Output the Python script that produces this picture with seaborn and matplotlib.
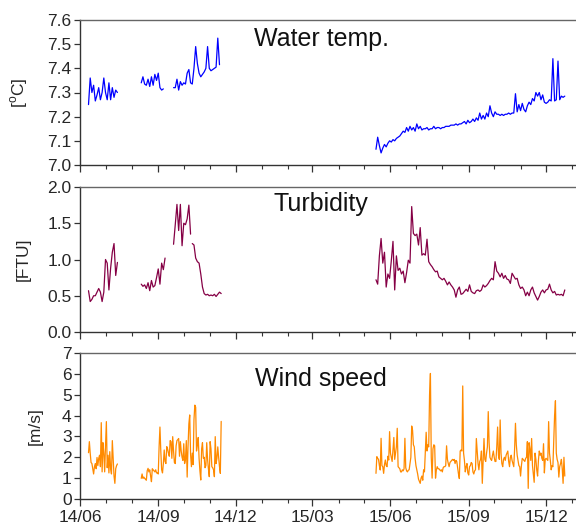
import numpy as np
import pandas as pd
import matplotlib
matplotlib.use("Agg")
import matplotlib.pyplot as plt
import matplotlib.dates as mdates
import seaborn as sns

# ---------------- data ----------------
# Water temperature [°C], readings every 2 days
temp_starts = ["2014-06-11", "2014-08-12", "2014-09-19", "2015-05-15"]
temp_step_days = 2
temp_seg1 = [7.25, 7.36, 7.30, 7.33, 7.265, 7.29, 7.32, 7.27, 7.30, 7.36, 7.30, 7.27,
             7.34, 7.27, 7.32, 7.28, 7.31, 7.30]
temp_seg2 = [7.34, 7.365, 7.335, 7.33, 7.355, 7.325, 7.365, 7.33, 7.375, 7.35, 7.38,
             7.32, 7.31, 7.315]
temp_seg3 = [7.32, 7.32, 7.355, 7.31, 7.345, 7.33, 7.34, 7.335, 7.38, 7.395, 7.34, 7.335,
             7.40, 7.49, 7.42, 7.38, 7.365, 7.375, 7.385, 7.40, 7.49, 7.40, 7.39, 7.395,
             7.40, 7.405, 7.525, 7.415]
temp_seg4 = [7.065, 7.115, 7.08, 7.05, 7.07, 7.085, 7.075, 7.09, 7.10, 7.095, 7.105, 7.10,
             7.11, 7.115, 7.12, 7.13, 7.14, 7.135, 7.155, 7.14, 7.16, 7.145, 7.155, 7.14,
             7.17, 7.15, 7.16, 7.145, 7.15, 7.15, 7.155, 7.145, 7.15, 7.15, 7.16, 7.15,
             7.155, 7.155, 7.15, 7.155, 7.155, 7.16, 7.16, 7.16, 7.165, 7.165, 7.165, 7.17,
             7.165, 7.17, 7.17, 7.175, 7.18, 7.17, 7.185, 7.175, 7.18, 7.19, 7.18, 7.195,
             7.185, 7.215, 7.19, 7.205, 7.19, 7.215, 7.20, 7.245, 7.215, 7.20, 7.22, 7.21,
             7.21, 7.205, 7.21, 7.205, 7.21, 7.21, 7.215, 7.21, 7.215, 7.215, 7.295, 7.22,
             7.25, 7.225, 7.255, 7.23, 7.22, 7.245, 7.26, 7.25, 7.275, 7.265, 7.30, 7.285,
             7.30, 7.27, 7.29, 7.26, 7.255, 7.26, 7.27, 7.265, 7.44, 7.265, 7.27, 7.43,
             7.27, 7.285, 7.28, 7.285]

# Turbidity [FTU], readings every 2 days
turb_starts = ["2014-06-11", "2014-08-12", "2014-09-19", "2014-10-11", "2015-05-15"]
turb_step_days = 2
turb_seg1 = [0.57, 0.42, 0.45, 0.50, 0.50, 0.55, 0.60, 0.55, 0.42, 0.55, 1.00, 0.95,
             0.58, 0.88, 1.10, 1.22, 0.78, 0.96]
turb_seg2 = [0.66, 0.63, 0.65, 0.60, 0.68, 0.57, 0.71, 0.62, 0.64, 0.75, 0.87, 0.66,
             0.95, 0.86, 1.02]
turb_seg3 = [1.21, 1.48, 1.76, 1.40, 1.76, 1.19, 1.50, 1.48, 1.56, 1.75, 1.35]
turb_seg4 = [1.22, 1.20, 1.02, 0.97, 0.95, 0.80, 0.62, 0.53, 0.51, 0.52, 0.50, 0.51,
             0.50, 0.52, 0.49, 0.52, 0.55, 0.53]
turb_seg5 = [0.72, 0.66, 1.05, 1.29, 0.95, 1.10, 0.62, 0.80, 0.74, 0.98, 1.25, 0.58,
             1.05, 0.85, 0.88, 0.80, 0.84, 0.68, 0.82, 0.99, 0.95, 1.73, 1.36, 1.33,
             1.35, 1.20, 1.44, 1.06, 1.08, 1.06, 1.28, 0.97, 0.93, 0.90, 0.86, 0.83,
             0.84, 0.76, 0.74, 0.72, 0.74, 0.70, 0.65, 0.69, 0.65, 0.62, 0.58, 0.48,
             0.58, 0.62, 0.52, 0.53, 0.56, 0.59, 0.56, 0.65, 0.56, 0.54, 0.53, 0.57,
             0.58, 0.56, 0.58, 0.65, 0.62, 0.64, 0.67, 0.71, 0.74, 0.72, 0.97, 0.84,
             0.81, 0.76, 0.81, 0.74, 0.78, 0.73, 0.72, 0.67, 0.81, 0.77, 0.73, 0.74,
             0.65, 0.60, 0.62, 0.58, 0.50, 0.55, 0.50, 0.58, 0.62, 0.54, 0.49, 0.44,
             0.49, 0.55, 0.58, 0.54, 0.58, 0.59, 0.66, 0.58, 0.54, 0.56, 0.51, 0.52,
             0.51, 0.52, 0.50, 0.58]

# Wind speed [m/s], daily readings
wind_starts = ["2014-06-11", "2014-08-12", "2015-05-15"]
wind_step_days = 1
wind_seg1 = [2.22, 2.75, 2.20, 1.75, 1.70, 1.45, 1.20, 1.55, 1.70, 1.45, 1.99, 1.60,
             1.95, 2.10, 1.55, 3.66, 1.30, 2.70, 2.20, 1.30, 2.55, 3.71, 1.50, 2.10,
             1.25, 2.27, 1.45, 1.20, 2.80, 1.95, 1.10, 0.75, 1.45, 1.60, 1.68]
wind_seg2 = [0.99, 1.20, 0.99, 1.05, 0.99, 0.95, 0.90, 1.35, 1.47, 1.30, 1.40, 1.10,
             0.83, 1.45, 1.40, 1.35, 1.30, 1.40, 1.25, 1.25, 1.20, 2.50, 3.45, 2.30,
             1.40, 1.25, 1.70, 2.35, 1.80, 1.70, 2.51, 2.40, 2.20, 2.05, 2.80, 2.75,
             1.95, 2.99, 2.30, 1.75, 1.70, 2.55, 2.80, 2.85, 2.90, 2.05, 2.75, 2.30,
             2.00, 1.85, 2.65, 1.70, 1.90, 2.80, 1.05, 2.50, 3.60, 4.03, 2.15, 1.55,
             2.20, 1.65, 3.80, 4.50, 4.40, 2.30, 2.60, 2.95, 1.95, 1.35, 0.91, 2.40,
             2.70, 1.95, 2.00, 1.50, 1.60, 2.70, 1.90, 1.45, 1.07, 2.75, 2.40, 1.55,
             1.50, 1.40, 1.07, 2.99, 1.70, 1.95, 2.50, 2.00, 1.55, 1.23, 3.72]
wind_seg3 = [1.23, 2.03, 1.95, 1.90, 1.60, 1.39, 2.91, 1.60, 1.55, 1.23, 1.65, 1.87,
             1.60, 1.55, 2.05, 1.87, 3.23, 2.20, 2.00, 1.80, 2.40, 2.95, 1.90, 2.20,
             2.50, 3.39, 1.55, 1.50, 1.45, 1.30, 1.30, 1.40, 1.35, 1.45, 2.91, 1.50,
             1.35, 1.30, 1.38, 1.40, 1.70, 2.00, 3.50, 3.30, 2.60, 2.50, 1.95, 1.60,
             1.40, 1.20, 0.95, 0.85, 0.75, 1.00, 1.10, 0.90, 1.40, 1.30, 2.20, 3.20,
             2.30, 2.60, 2.50, 5.00, 6.02, 2.00, 1.00, 2.40, 2.60, 2.55, 1.00, 1.40,
             1.55, 1.45, 1.45, 1.40, 1.35, 1.40, 1.30, 1.50, 1.55, 1.55, 1.60, 2.55,
             1.90, 1.70, 1.55, 1.75, 1.80, 1.85, 1.90, 1.85, 1.90, 1.70, 1.85, 1.80,
             1.50, 1.20, 0.98, 2.30, 2.35, 2.30, 5.42, 2.20, 1.85, 1.30, 1.55, 1.70,
             1.25, 1.15, 1.55, 1.60, 1.75, 1.70, 1.30, 1.20, 1.35, 1.40, 2.90, 2.30,
             1.70, 1.40, 1.80, 1.90, 2.30, 0.75, 1.80, 2.90, 1.90, 1.80, 2.20, 2.50,
             4.19, 2.70, 2.00, 1.90, 1.85, 2.10, 2.30, 2.00, 1.80, 1.80, 2.50, 3.45,
             2.10, 1.90, 3.79, 2.20, 1.70, 1.55, 1.90, 2.00, 1.85, 2.10, 2.20, 2.30,
             1.80, 1.55, 2.00, 2.10, 1.85, 1.70, 1.55, 2.40, 3.63, 2.60, 2.10, 1.85,
             1.60, 1.55, 1.10, 1.60, 1.95, 1.90, 1.85, 1.80, 1.95, 2.00, 2.75, 0.51,
             2.70, 2.40, 1.85, 2.90, 1.60, 1.20, 0.80, 2.20, 1.90, 1.40, 1.10, 1.85,
             2.30, 2.10, 2.20, 1.95, 1.85, 2.65, 1.25, 1.90, 1.95, 1.90, 1.85, 3.71,
             2.20, 1.85, 1.40, 1.60, 1.55, 2.80, 4.00, 4.71, 2.20, 1.90, 1.75, 1.05,
             1.55, 1.70, 1.90, 1.45, 0.75, 2.00, 1.10]

panel_titles = ["Water temp.", "Turbidity", "Wind speed"]
panel_ylabels = ["[$^{\\mathrm{o}}$C]", "[FTU]", "[m/s]"]
temp_yticks = [7.0, 7.1, 7.2, 7.3, 7.4, 7.5, 7.6]
turb_yticks = [0.0, 0.5, 1.0, 1.5, 2.0]
wind_yticks = [0, 1, 2, 3, 4, 5, 6, 7]
x_range = ["2014-06-01", "2016-01-04"]
x_tick_dates = ["2014-06-01", "2014-09-01", "2014-12-01", "2015-03-01",
                "2015-06-01", "2015-09-01", "2015-12-01"]

# ---------------- build tables ----------------
def build(starts, segs, step, name):
    frames = []
    for i, (s, vals) in enumerate(zip(starts, segs)):
        d = pd.date_range(s, periods=len(vals), freq=f"{step}D")
        frames.append(pd.DataFrame({"date": d, name: vals, "seg": i}))
    return pd.concat(frames, ignore_index=True)

df_temp = build(temp_starts, [temp_seg1, temp_seg2, temp_seg3, temp_seg4], temp_step_days, "value")
df_turb = build(turb_starts, [turb_seg1, turb_seg2, turb_seg3, turb_seg4, turb_seg5], turb_step_days, "value")
df_wind = build(wind_starts, [wind_seg1, wind_seg2, wind_seg3], wind_step_days, "value")

# ---------------- plot ----------------
sns.set_style("ticks")
plt.rcParams["font.family"] = ["Liberation Sans", "DejaVu Sans"]
plt.rcParams["mathtext.fontset"] = "custom"
plt.rcParams["mathtext.rm"] = "Liberation Sans"

W, H = 576, 531
fig = plt.figure(figsize=(W / 100, H / 100), dpi=100)

left = 80 / W
width = 495 / W
boxes = [(20, 165), (187, 332), (353, 499)]
axes = []
for (t, b) in boxes:
    axes.append(fig.add_axes([left, 1 - b / H, width, (b - t) / H]))

colors = ["#0000FF", "#850045", "#FF8A00"]
dfs = [df_temp, df_turb, df_wind]
ylims = [(7.0, 7.6), (0.0, 2.0), (0, 7)]
yticks = [temp_yticks, turb_yticks, wind_yticks]
yfmt = ["{:.1f}", "{:.1f}", "{:d}"]
title_y = [0.955, 0.965, 0.905]
ylabel_x = [-0.10, -0.10, -0.075]

xlim = [pd.Timestamp(x) for x in x_range]
xt = [pd.Timestamp(x) for x in x_tick_dates]

for i, ax in enumerate(axes):
    df = dfs[i]
    for seg, sub in df.groupby("seg"):
        sns.lineplot(data=sub, x="date", y="value", ax=ax, color=colors[i],
                     lw=0.9, estimator=None, legend=False)
    ax.set_xlim(xlim)
    ax.set_ylim(*ylims[i])
    ax.set_yticks(yticks[i])
    ax.set_yticklabels([yfmt[i].format(v) for v in yticks[i]], fontsize=12.5)
    ax.set_xticks(xt)
    ax.xaxis.set_minor_locator(mdates.MonthLocator())
    ax.xaxis.set_major_formatter(mdates.DateFormatter("%y/%m"))
    if i < 2:
        ax.tick_params(axis="x", labelbottom=False)
    else:
        ax.tick_params(axis="x", labelsize=12.5)
    ax.tick_params(axis="x", which="major", length=5, width=0.9, color="#333333", pad=3)
    ax.tick_params(axis="x", which="minor", length=3, width=0.8, color="#333333")
    ax.tick_params(axis="y", length=4, width=0.9, color="#333333", pad=2)
    ax.set_xlabel("")
    ax.set_ylabel(panel_ylabels[i], fontsize=12.5)
    ax.yaxis.set_label_coords(ylabel_x[i], 0.5)
    ax.spines["right"].set_visible(False)
    ax.spines["top"].set_color("#666666")
    ax.spines["left"].set_color("#333333")
    ax.spines["bottom"].set_color("#333333")
    for s in ["top", "left", "bottom"]:
        ax.spines[s].set_linewidth(1.0)
    ax.text(0.487, title_y[i], panel_titles[i], transform=ax.transAxes,
            ha="center", va="top", fontsize=18, color="#111111")
    ax.set_facecolor("white")

fig.savefig("out.png", dpi=100, facecolor="white")
